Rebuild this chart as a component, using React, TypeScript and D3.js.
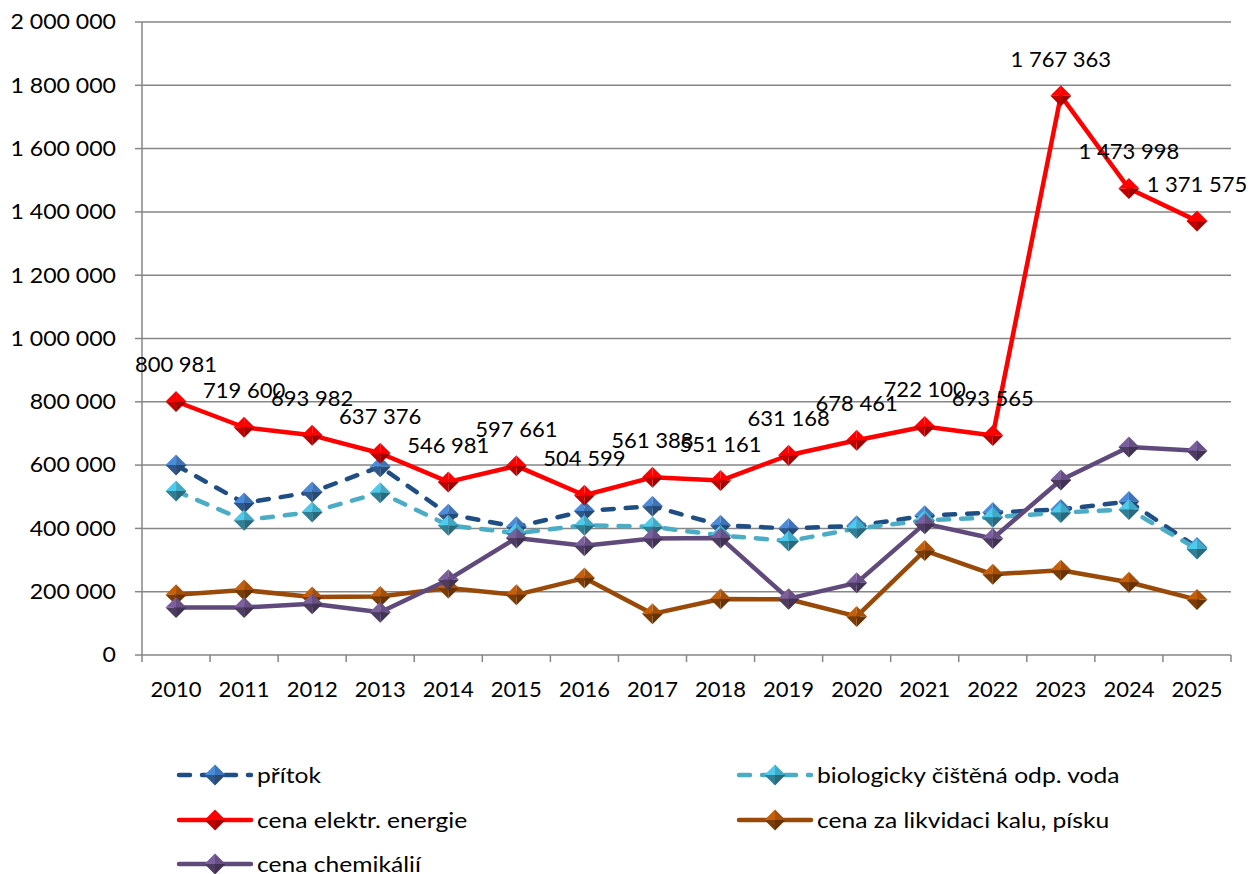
import React from "react";
import * as d3 from "d3";

const years = ["2010","2011","2012","2013","2014","2015","2016","2017","2018","2019","2020","2021","2022","2023","2024","2025"];
const pritok = [600000,480000,515000,595000,445000,405000,455000,470000,410000,400000,408000,440000,450000,460000,485000,340000];
const biologicky = [518000,426000,452000,513000,410000,385000,410000,405000,378000,360000,400000,425000,435000,450000,460000,335000];
const elektr = [800981,719600,693982,637376,546981,597661,504599,561388,551161,631168,678461,722100,693565,1767363,1473998,1371575];
const likvidace = [190000,205000,183000,185000,212000,190000,243000,130000,177000,176000,122000,330000,255000,268000,230000,175000];
const chemikalie = [150000,150000,162000,135000,238000,370000,345000,368000,370000,178000,228000,415000,368000,553000,657000,645000];
const yTicks = [0,200000,400000,600000,800000,1000000,1200000,1400000,1600000,1800000,2000000];

type Series = { name: string; values: number[]; color: string; marker: string; dashed: boolean; labels?: boolean };
const series: Series[] = [
  { name: "přítok", values: pritok, color: "#1F4E85", marker: "#3A6CAA", dashed: true },
  { name: "biologicky čištěná odp. voda", values: biologicky, color: "#4BACC6", marker: "#3C9DB8", dashed: true },
  { name: "cena elektr. energie", values: elektr, color: "#FF0000", marker: "#F00000", dashed: false, labels: true },
  { name: "cena za likvidaci kalu, písku", values: likvidace, color: "#9A4A08", marker: "#9A4A08", dashed: false },
  { name: "cena chemikálií", values: chemikalie, color: "#604A7B", marker: "#604A7B", dashed: false },
];

const FONT = "Lato, 'Open Sans', sans-serif";
const fmt = (v: number) => d3.format(",")(v).replace(/,/g, " ");

function Diamond({ cx, cy, r, color }: { cx: number; cy: number; r: number; color: string }) {
  const c = d3.color(color)!;
  const light = c.brighter(0.7).formatHex();
  const mid = c.brighter(0.2).formatHex();
  const dark = c.darker(0.6).formatHex();
  const darker = c.darker(1.1).formatHex();
  const T = [cx, cy - r], R = [cx + r, cy], B = [cx, cy + r], L = [cx - r, cy], C = [cx, cy];
  const tri = (a: number[], b: number[], d: number[]) => `M${a[0]},${a[1]}L${b[0]},${b[1]}L${d[0]},${d[1]}Z`;
  return (
    <g>
      <path d={tri(T, C, L)} fill={light} />
      <path d={tri(T, R, C)} fill={mid} />
      <path d={tri(C, R, B)} fill={darker} />
      <path d={tri(L, C, B)} fill={dark} />
    </g>
  );
}

export default function App() {
  const W = 1252, H = 874;
  const x0 = 142, x1 = 1231, yTop = 22, yBot = 655;
  const x = d3.scaleBand<string>().domain(years).range([x0, x1]);
  const y = d3.scaleLinear().domain([0, 2000000]).range([yBot, yTop]);
  const cx = (i: number) => (x(years[i]) as number) + x.bandwidth() / 2;
  const line = d3.line<number>().x((_, i) => cx(i)).y(d => y(d));
  const grid = "#868686";

  const legendItems = [
    { s: series[0], lx: 179, ly: 775 },
    { s: series[1], lx: 739, ly: 775 },
    { s: series[2], lx: 179, ly: 820 },
    { s: series[3], lx: 739, ly: 820 },
    { s: series[4], lx: 179, ly: 864 },
  ];

  return (
    <svg width={W} height={H} style={{ position: "absolute", left: 0, top: 0, background: "#fff" }} fontFamily={FONT}>
      {yTicks.map(t => (
        <g key={t}>
          {t > 0 && <line x1={x0} x2={x1} y1={y(t)} y2={y(t)} stroke={grid} strokeWidth={1.5} />}
          <line x1={x0 - 7} x2={x0} y1={y(t)} y2={y(t)} stroke={grid} strokeWidth={1.5} />
          <text transform={`translate(116,${y(t)}) scale(1.1,1)`} dy="0.35em" textAnchor="end" fontSize={21} fill="#000">{fmt(t)}</text>
        </g>
      ))}
      <line x1={x0} x2={x0} y1={yTop} y2={yBot} stroke={grid} strokeWidth={1.5} />
      <line x1={x0} x2={x1} y1={yBot} y2={yBot} stroke={grid} strokeWidth={1.5} />
      {years.map(yr => (
        <line key={"t" + yr} x1={x(yr)!} x2={x(yr)!} y1={yBot} y2={yBot + 7} stroke={grid} strokeWidth={1.5} />
      ))}
      <line x1={x1} x2={x1} y1={yBot} y2={yBot + 7} stroke={grid} strokeWidth={1.5} />
      {years.map((yr, i) => (
        <text key={yr} x={cx(i)} y={697} textAnchor="middle" fontSize={22} fill="#000">{yr}</text>
      ))}

      {series.map(s => (
        <g key={s.name}>
          <path d={line(s.values)!} fill="none" stroke={s.color} strokeWidth={4.5}
            strokeDasharray={s.dashed ? "11,12" : undefined} strokeLinecap="round" strokeLinejoin="round" />
          {s.values.map((v, i) => <Diamond key={i} cx={cx(i)} cy={y(v)} r={10.5} color={s.marker} />)}
        </g>
      ))}

      {series.filter(s => s.labels).map(s => s.values.map((v, i) => (
        <text key={s.name + i} x={cx(i)} y={y(v) - 29} textAnchor="middle" fontSize={22} fill="#000">{fmt(v)}</text>
      )))}

      {legendItems.map(({ s, lx, ly }) => (
        <g key={"l" + s.name}>
          <line x1={lx} x2={lx + 72} y1={ly} y2={ly} stroke={s.color} strokeWidth={4.5}
            strokeDasharray={s.dashed ? "11,12" : undefined} strokeLinecap="round" />
          <Diamond cx={lx + 36} cy={ly} r={10.5} color={s.marker} />
          <text transform={`translate(${lx + 78},${ly}) scale(1.12,1)`} dy="0.35em" fontSize={22} fill="#000">{s.name}</text>
        </g>
      ))}
    </svg>
  );
}
